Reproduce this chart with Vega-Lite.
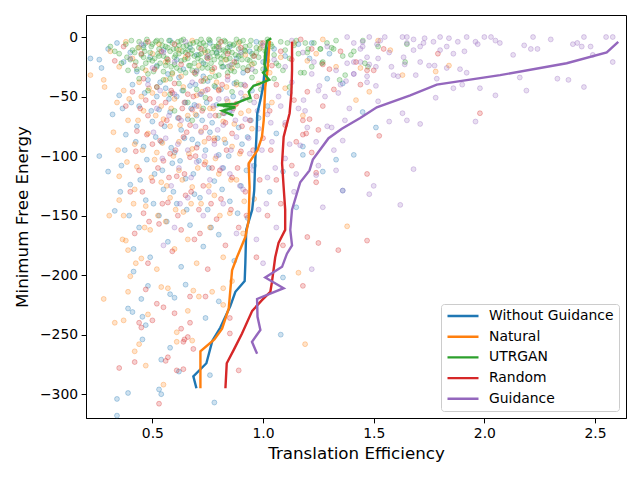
{
  "$schema": "https://vega.github.io/schema/vega-lite/v6.json",
  "width": 540,
  "height": 403,
  "autosize": {"type": "none"},
  "padding": {"left": 86, "top": 15, "right": 14, "bottom": 62},
  "background": "white",
  "config": {
    "font": "DejaVu Sans",
    "view": {"stroke": "black", "strokeWidth": 1},
    "axis": {
      "grid": false,
      "domainColor": "black",
      "tickColor": "black",
      "tickSize": 4.9,
      "labelPadding": 3.5,
      "labelFontSize": 13.9,
      "labelColor": "black",
      "titleFontSize": 16.7,
      "titleFontWeight": "normal",
      "titleColor": "black"
    }
  },
  "datasets": {
    "pts": [
      {"s":"W","x":0.22,"y":-18},{"s":"W","x":0.26,"y":-19},{"s":"W","x":0.27,"y":-26},{"s":"W","x":0.30,"y":-10},{"s":"W","x":0.34,"y":-5},{"s":"W","x":0.37,"y":-21},{"s":"W","x":0.40,"y":-13},{"s":"W","x":0.43,"y":-29},{"s":"W","x":0.46,"y":-7},{"s":"W","x":0.49,"y":-17},{"s":"W","x":0.52,"y":-24},{"s":"W","x":0.55,"y":-11},{"s":"W","x":0.58,"y":-3},{"s":"W","x":0.61,"y":-19},{"s":"W","x":0.64,"y":-27},{"s":"W","x":0.67,"y":-9},{"s":"W","x":0.70,"y":-15},{"s":"W","x":0.73,"y":-22},{"s":"W","x":0.76,"y":-5},{"s":"W","x":0.79,"y":-13},{"s":"W","x":0.82,"y":-25},{"s":"W","x":0.85,"y":-8},{"s":"W","x":0.88,"y":-18},{"s":"W","x":0.91,"y":-30},{"s":"W","x":0.94,"y":-12},{"s":"W","x":0.97,"y":-4},{"s":"W","x":1.00,"y":-21},{"s":"W","x":1.05,"y":-10},{"s":"W","x":1.10,"y":-16},{"s":"W","x":1.16,"y":-6},{"s":"W","x":1.21,"y":-18},{"s":"W","x":1.22,"y":-5},{"s":"W","x":1.30,"y":-14},
      {"s":"W","x":0.35,"y":-49},{"s":"W","x":0.32,"y":-65},{"s":"W","x":0.38,"y":-82},{"s":"W","x":0.41,"y":-40},{"s":"W","x":0.44,"y":-58},{"s":"W","x":0.46,"y":-92},{"s":"W","x":0.48,"y":-36},{"s":"W","x":0.50,"y":-71},{"s":"W","x":0.52,"y":-50},{"s":"W","x":0.54,"y":-88},{"s":"W","x":0.56,"y":-43},{"s":"W","x":0.58,"y":-63},{"s":"W","x":0.60,"y":-97},{"s":"W","x":0.62,"y":-34},{"s":"W","x":0.63,"y":-78},{"s":"W","x":0.65,"y":-55},{"s":"W","x":0.67,"y":-41},{"s":"W","x":0.68,"y":-86},{"s":"W","x":0.70,"y":-66},{"s":"W","x":0.72,"y":-48},{"s":"W","x":0.74,"y":-95},{"s":"W","x":0.75,"y":-37},{"s":"W","x":0.77,"y":-72},{"s":"W","x":0.79,"y":-57},{"s":"W","x":0.81,"y":-44},{"s":"W","x":0.83,"y":-89},{"s":"W","x":0.85,"y":-62},{"s":"W","x":0.87,"y":-39},{"s":"W","x":0.89,"y":-76},{"s":"W","x":0.91,"y":-52},{"s":"W","x":0.93,"y":-84},{"s":"W","x":0.95,"y":-45},{"s":"W","x":0.98,"y":-68},{"s":"W","x":1.02,"y":-58},{"s":"W","x":1.06,"y":-81},{"s":"W","x":1.12,"y":-47},{"s":"W","x":1.18,"y":-92},{"s":"W","x":1.29,"y":-35},{"s":"W","x":1.36,"y":-39},{"s":"W","x":0.57,"y":-31},{"s":"W","x":0.66,"y":-69},{"s":"W","x":0.73,"y":-33},{"s":"W","x":0.80,"y":-99},{"s":"W","x":0.43,"y":-75},{"s":"W","x":0.53,"y":-61},{"s":"W","x":0.61,"y":-50},{"s":"W","x":0.69,"y":-57},{"s":"W","x":0.76,"y":-80},
      {"s":"W","x":0.405,"y":-55},{"s":"W","x":0.425,"y":-88},{"s":"W","x":0.445,"y":-120},{"s":"W","x":0.465,"y":-47},{"s":"W","x":0.475,"y":-103},{"s":"W","x":0.495,"y":-62},{"s":"W","x":0.505,"y":-140},{"s":"W","x":0.515,"y":-84},{"s":"W","x":0.535,"y":-38},{"s":"W","x":0.545,"y":-112},{"s":"W","x":0.555,"y":-75},{"s":"W","x":0.565,"y":-155},{"s":"W","x":0.575,"y":-52},{"s":"W","x":0.585,"y":-93},{"s":"W","x":0.595,"y":-130},{"s":"W","x":0.615,"y":-68},{"s":"W","x":0.625,"y":-104},{"s":"W","x":0.635,"y":-45},{"s":"W","x":0.645,"y":-85},{"s":"W","x":0.655,"y":-145},{"s":"W","x":0.675,"y":-60},{"s":"W","x":0.685,"y":-115},{"s":"W","x":0.695,"y":-40},{"s":"W","x":0.705,"y":-90},{"s":"W","x":0.715,"y":-135},{"s":"W","x":0.725,"y":-70},{"s":"W","x":0.745,"y":-55},{"s":"W","x":0.755,"y":-110},{"s":"W","x":0.765,"y":-160},{"s":"W","x":0.785,"y":-42},{"s":"W","x":0.795,"y":-85},{"s":"W","x":0.815,"y":-128},{"s":"W","x":0.825,"y":-64},{"s":"W","x":0.845,"y":-100},{"s":"W","x":0.865,"y":-50},{"s":"W","x":0.885,"y":-148},{"s":"W","x":0.905,"y":-90},{"s":"W","x":0.925,"y":-112},{"s":"W","x":0.945,"y":-70},{"s":"W","x":0.395,"y":-150},{"s":"W","x":0.375,"y":-95},{"s":"W","x":0.355,"y":-130},{"s":"W","x":0.365,"y":-60},
      {"s":"W","x":0.26,"y":-100},{"s":"W","x":0.30,"y":-113},{"s":"W","x":0.36,"y":-108},{"s":"W","x":0.33,"y":-146},{"s":"W","x":0.415,"y":-178},{"s":"W","x":0.415,"y":-197},{"s":"W","x":0.40,"y":-124},{"s":"W","x":0.44,"y":-160},{"s":"W","x":0.47,"y":-137},{"s":"W","x":0.49,"y":-185},{"s":"W","x":0.51,"y":-115},{"s":"W","x":0.53,"y":-150},{"s":"W","x":0.55,"y":-128},{"s":"W","x":0.57,"y":-172},{"s":"W","x":0.59,"y":-106},{"s":"W","x":0.61,"y":-140},{"s":"W","x":0.63,"y":-193},{"s":"W","x":0.65,"y":-119},{"s":"W","x":0.67,"y":-158},{"s":"W","x":0.69,"y":-132},{"s":"W","x":0.71,"y":-104},{"s":"W","x":0.73,"y":-176},{"s":"W","x":0.75,"y":-145},{"s":"W","x":0.78,"y":-121},{"s":"W","x":0.80,"y":-166},{"s":"W","x":0.82,"y":-110},{"s":"W","x":0.85,"y":-138},{"s":"W","x":0.87,"y":-188},{"s":"W","x":0.90,"y":-125},{"s":"W","x":0.93,"y":-152},{"s":"W","x":0.96,"y":-108},{"s":"W","x":1.03,"y":-130},{"s":"W","x":1.09,"y":-113},{"s":"W","x":1.15,"y":-143},{"s":"W","x":1.18,"y":-99},{"s":"W","x":1.09,"y":-202},{"s":"W","x":1.27,"y":-113},{"s":"W","x":1.33,"y":-103},{"s":"W","x":1.36,"y":-129},{"s":"W","x":1.41,"y":-99},{"s":"W","x":1.45,"y":-63},{"s":"W","x":1.51,"y":-76},{"s":"W","x":0.48,"y":-209},{"s":"W","x":0.65,"y":-208},
      {"s":"W","x":0.58,"y":-216},{"s":"W","x":0.60,"y":-219},{"s":"W","x":0.45,"y":-220},{"s":"W","x":0.80,"y":-222},{"s":"W","x":0.39,"y":-228},{"s":"W","x":0.41,"y":-231},{"s":"W","x":0.455,"y":-235},{"s":"W","x":0.74,"y":-236},{"s":"W","x":0.47,"y":-242},{"s":"W","x":0.455,"y":-254},{"s":"W","x":0.58,"y":-261},{"s":"W","x":0.54,"y":-271},{"s":"W","x":0.62,"y":-281},{"s":"W","x":0.76,"y":-284},{"s":"W","x":0.39,"y":-299},{"s":"W","x":0.53,"y":-296},{"s":"W","x":0.54,"y":-300},{"s":"W","x":0.34,"y":-304},{"s":"W","x":0.78,"y":-307},{"s":"W","x":0.34,"y":-318},{"s":"W","x":1.08,"y":-250},

      {"s":"N","x":0.22,"y":-32},{"s":"N","x":0.28,"y":-36},{"s":"N","x":0.284,"y":-42},{"s":"N","x":0.31,"y":-12},{"s":"N","x":0.35,"y":-25},{"s":"N","x":0.38,"y":-4},{"s":"N","x":0.41,"y":-18},{"s":"N","x":0.44,"y":-9},{"s":"N","x":0.47,"y":-28},{"s":"N","x":0.50,"y":-14},{"s":"N","x":0.53,"y":-6},{"s":"N","x":0.56,"y":-21},{"s":"N","x":0.59,"y":-31},{"s":"N","x":0.62,"y":-11},{"s":"N","x":0.65,"y":-17},{"s":"N","x":0.68,"y":-3},{"s":"N","x":0.71,"y":-24},{"s":"N","x":0.74,"y":-13},{"s":"N","x":0.77,"y":-29},{"s":"N","x":0.80,"y":-8},{"s":"N","x":0.83,"y":-19},{"s":"N","x":0.86,"y":-26},{"s":"N","x":0.89,"y":-5},{"s":"N","x":0.92,"y":-15},{"s":"N","x":0.95,"y":-23},{"s":"N","x":0.99,"y":-9},{"s":"N","x":1.03,"y":-30},{"s":"N","x":1.08,"y":-17},{"s":"N","x":1.14,"y":-5},{"s":"N","x":1.20,"y":-20},{"s":"N","x":1.27,"y":-2},{"s":"N","x":1.24,"y":-14},{"s":"N","x":1.33,"y":-25},{"s":"N","x":1.44,"y":-26},{"s":"N","x":1.52,"y":-3},{"s":"N","x":1.575,"y":-11},{"s":"N","x":1.63,"y":-32},{"s":"N","x":1.78,"y":-29},{"s":"N","x":1.84,"y":-24},
      {"s":"N","x":0.324,"y":-80},{"s":"N","x":0.34,"y":-55},{"s":"N","x":0.37,"y":-45},{"s":"N","x":0.39,"y":-70},{"s":"N","x":0.42,"y":-90},{"s":"N","x":0.44,"y":-38},{"s":"N","x":0.46,"y":-62},{"s":"N","x":0.48,"y":-81},{"s":"N","x":0.50,"y":-47},{"s":"N","x":0.52,"y":-97},{"s":"N","x":0.54,"y":-58},{"s":"N","x":0.56,"y":-36},{"s":"N","x":0.58,"y":-75},{"s":"N","x":0.60,"y":-52},{"s":"N","x":0.62,"y":-88},{"s":"N","x":0.64,"y":-42},{"s":"N","x":0.66,"y":-66},{"s":"N","x":0.68,"y":-94},{"s":"N","x":0.70,"y":-49},{"s":"N","x":0.72,"y":-79},{"s":"N","x":0.74,"y":-35},{"s":"N","x":0.76,"y":-60},{"s":"N","x":0.78,"y":-85},{"s":"N","x":0.80,"y":-44},{"s":"N","x":0.82,"y":-71},{"s":"N","x":0.84,"y":-54},{"s":"N","x":0.86,"y":-92},{"s":"N","x":0.88,"y":-40},{"s":"N","x":0.90,"y":-64},{"s":"N","x":0.92,"y":-50},{"s":"N","x":0.95,"y":-77},{"s":"N","x":0.98,"y":-39},{"s":"N","x":1.04,"y":-55},{"s":"N","x":1.10,"y":-43},{"s":"N","x":1.18,"y":-66},{"s":"N","x":1.42,"y":-53},{"s":"N","x":1.48,"y":-46},{"s":"N","x":0.45,"y":-50},{"s":"N","x":0.55,"y":-69},{"s":"N","x":0.63,"y":-33},{"s":"N","x":0.71,"y":-58},{"s":"N","x":0.79,"y":-38},{"s":"N","x":0.87,"y":-73},
      {"s":"N","x":0.385,"y":-105},{"s":"N","x":0.395,"y":-52},{"s":"N","x":0.415,"y":-140},{"s":"N","x":0.435,"y":-70},{"s":"N","x":0.455,"y":-95},{"s":"N","x":0.465,"y":-160},{"s":"N","x":0.485,"y":-43},{"s":"N","x":0.495,"y":-118},{"s":"N","x":0.515,"y":-66},{"s":"N","x":0.525,"y":-150},{"s":"N","x":0.545,"y":-89},{"s":"N","x":0.555,"y":-48},{"s":"N","x":0.565,"y":-125},{"s":"N","x":0.585,"y":-60},{"s":"N","x":0.595,"y":-100},{"s":"N","x":0.605,"y":-145},{"s":"N","x":0.625,"y":-74},{"s":"N","x":0.635,"y":-120},{"s":"N","x":0.645,"y":-55},{"s":"N","x":0.665,"y":-98},{"s":"N","x":0.675,"y":-140},{"s":"N","x":0.695,"y":-65},{"s":"N","x":0.705,"y":-110},{"s":"N","x":0.725,"y":-46},{"s":"N","x":0.735,"y":-88},{"s":"N","x":0.755,"y":-125},{"s":"N","x":0.775,"y":-60},{"s":"N","x":0.785,"y":-102},{"s":"N","x":0.805,"y":-150},{"s":"N","x":0.825,"y":-86},{"s":"N","x":0.835,"y":-42},{"s":"N","x":0.855,"y":-120},{"s":"N","x":0.875,"y":-57},{"s":"N","x":0.895,"y":-98},{"s":"N","x":0.915,"y":-138},{"s":"N","x":0.935,"y":-62},{"s":"N","x":0.345,"y":-95},{"s":"N","x":0.365,"y":-170},{"s":"N","x":0.425,"y":-190},{"s":"N","x":0.305,"y":-150},
      {"s":"N","x":0.35,"y":-117},{"s":"N","x":0.35,"y":-137},{"s":"N","x":0.38,"y":-171},{"s":"N","x":0.39,"y":-179},{"s":"N","x":0.40,"y":-201},{"s":"N","x":0.37,"y":-150},{"s":"N","x":0.42,"y":-128},{"s":"N","x":0.43,"y":-109},{"s":"N","x":0.45,"y":-186},{"s":"N","x":0.47,"y":-142},{"s":"N","x":0.49,"y":-162},{"s":"N","x":0.51,"y":-103},{"s":"N","x":0.52,"y":-195},{"s":"N","x":0.54,"y":-122},{"s":"N","x":0.56,"y":-155},{"s":"N","x":0.58,"y":-135},{"s":"N","x":0.60,"y":-178},{"s":"N","x":0.62,"y":-112},{"s":"N","x":0.64,"y":-147},{"s":"N","x":0.66,"y":-170},{"s":"N","x":0.68,"y":-126},{"s":"N","x":0.70,"y":-190},{"s":"N","x":0.72,"y":-140},{"s":"N","x":0.74,"y":-105},{"s":"N","x":0.76,"y":-160},{"s":"N","x":0.78,"y":-133},{"s":"N","x":0.80,"y":-115},{"s":"N","x":0.82,"y":-185},{"s":"N","x":0.85,"y":-148},{"s":"N","x":0.88,"y":-120},{"s":"N","x":0.91,"y":-165},{"s":"N","x":0.96,"y":-136},{"s":"N","x":1.16,"y":-198},{"s":"N","x":1.19,"y":-258},{"s":"N","x":1.38,"y":-159},
      {"s":"N","x":0.28,"y":-220},{"s":"N","x":0.39,"y":-214},{"s":"N","x":0.37,"y":-238},{"s":"N","x":0.48,"y":-233},{"s":"N","x":0.44,"y":-258},{"s":"N","x":0.42,"y":-264},{"s":"N","x":0.47,"y":-276},{"s":"N","x":0.55,"y":-292},{"s":"N","x":0.66,"y":-230},{"s":"N","x":0.61,"y":-248},{"s":"N","x":0.61,"y":-256},{"s":"N","x":0.68,"y":-255},{"s":"N","x":0.54,"y":-210},{"s":"N","x":0.57,"y":-211},{"s":"N","x":0.685,"y":-213},{"s":"N","x":0.71,"y":-218},{"s":"N","x":0.77,"y":-214},{"s":"N","x":0.82,"y":-211},{"s":"N","x":0.82,"y":-225},{"s":"N","x":0.33,"y":-240},{"s":"N","x":0.86,"y":-205},

      {"s":"U","x":0.31,"y":-8},{"s":"U","x":0.35,"y":-14},{"s":"U","x":0.38,"y":-6},{"s":"U","x":0.40,"y":-19},{"s":"U","x":0.41,"y":-11},{"s":"U","x":0.43,"y":-27},{"s":"U","x":0.44,"y":-4},{"s":"U","x":0.45,"y":-15},{"s":"U","x":0.46,"y":-9},{"s":"U","x":0.47,"y":-22},{"s":"U","x":0.48,"y":-31},{"s":"U","x":0.49,"y":-13},{"s":"U","x":0.50,"y":-6},{"s":"U","x":0.51,"y":-18},{"s":"U","x":0.52,"y":-25},{"s":"U","x":0.53,"y":-10},{"s":"U","x":0.54,"y":-3},{"s":"U","x":0.55,"y":-16},{"s":"U","x":0.55,"y":-29},{"s":"U","x":0.56,"y":-8},{"s":"U","x":0.57,"y":-21},{"s":"U","x":0.58,"y":-12},{"s":"U","x":0.58,"y":-35},{"s":"U","x":0.59,"y":-5},{"s":"U","x":0.60,"y":-17},{"s":"U","x":0.61,"y":-26},{"s":"U","x":0.61,"y":-10},{"s":"U","x":0.62,"y":-14},{"s":"U","x":0.63,"y":-3},{"s":"U","x":0.63,"y":-20},{"s":"U","x":0.64,"y":-8},{"s":"U","x":0.65,"y":-30},{"s":"U","x":0.65,"y":-13},{"s":"U","x":0.66,"y":-18},{"s":"U","x":0.67,"y":-6},{"s":"U","x":0.67,"y":-24},{"s":"U","x":0.68,"y":-11},{"s":"U","x":0.69,"y":-16},{"s":"U","x":0.70,"y":-4},{"s":"U","x":0.70,"y":-28},{"s":"U","x":0.71,"y":-9},{"s":"U","x":0.72,"y":-20},{"s":"U","x":0.72,"y":-14},{"s":"U","x":0.73,"y":-37},{"s":"U","x":0.74,"y":-7},{"s":"U","x":0.74,"y":-23},{"s":"U","x":0.75,"y":-12},{"s":"U","x":0.76,"y":-17},{"s":"U","x":0.76,"y":-3},{"s":"U","x":0.77,"y":-27},{"s":"U","x":0.78,"y":-10},{"s":"U","x":0.78,"y":-19},{"s":"U","x":0.79,"y":-14},{"s":"U","x":0.80,"y":-6},{"s":"U","x":0.80,"y":-32},{"s":"U","x":0.81,"y":-22},{"s":"U","x":0.82,"y":-11},{"s":"U","x":0.82,"y":-16},{"s":"U","x":0.83,"y":-4},{"s":"U","x":0.84,"y":-25},{"s":"U","x":0.84,"y":-9},{"s":"U","x":0.85,"y":-18},{"s":"U","x":0.86,"y":-13},{"s":"U","x":0.87,"y":-29},{"s":"U","x":0.87,"y":-6},{"s":"U","x":0.88,"y":-21},{"s":"U","x":0.89,"y":-10},{"s":"U","x":0.90,"y":-15},{"s":"U","x":0.91,"y":-3},{"s":"U","x":0.91,"y":-26},{"s":"U","x":0.92,"y":-12},{"s":"U","x":0.93,"y":-19},{"s":"U","x":0.94,"y":-7},{"s":"U","x":0.95,"y":-34},{"s":"U","x":0.95,"y":-14},{"s":"U","x":0.96,"y":-22},{"s":"U","x":0.97,"y":-9},{"s":"U","x":0.98,"y":-17},{"s":"U","x":0.99,"y":-5},{"s":"U","x":1.00,"y":-27},{"s":"U","x":1.01,"y":-12},{"s":"U","x":1.02,"y":-20},{"s":"U","x":1.04,"y":-8},{"s":"U","x":1.05,"y":-15},{"s":"U","x":1.07,"y":-24},{"s":"U","x":1.08,"y":-4},{"s":"U","x":1.10,"y":-11},{"s":"U","x":1.12,"y":-18},{"s":"U","x":1.14,"y":-7},{"s":"U","x":1.17,"y":-30},{"s":"U","x":1.20,"y":-13},{"s":"U","x":1.23,"y":-5},{"s":"U","x":1.27,"y":-21},{"s":"U","x":1.31,"y":-9},{"s":"U","x":1.36,"y":-16},
      {"s":"U","x":0.385,"y":-17},{"s":"U","x":0.405,"y":-3},{"s":"U","x":0.425,"y":-21},{"s":"U","x":0.435,"y":-9},{"s":"U","x":0.455,"y":-26},{"s":"U","x":0.465,"y":-12},{"s":"U","x":0.475,"y":-2},{"s":"U","x":0.485,"y":-19},{"s":"U","x":0.495,"y":-8},{"s":"U","x":0.505,"y":-29},{"s":"U","x":0.515,"y":-4},{"s":"U","x":0.525,"y":-14},{"s":"U","x":0.535,"y":-22},{"s":"U","x":0.545,"y":-7},{"s":"U","x":0.565,"y":-18},{"s":"U","x":0.575,"y":-3},{"s":"U","x":0.585,"y":-25},{"s":"U","x":0.595,"y":-10},{"s":"U","x":0.605,"y":-15},{"s":"U","x":0.615,"y":-4},{"s":"U","x":0.625,"y":-28},{"s":"U","x":0.635,"y":-12},{"s":"U","x":0.645,"y":-19},{"s":"U","x":0.655,"y":-7},{"s":"U","x":0.665,"y":-24},{"s":"U","x":0.675,"y":-14},{"s":"U","x":0.685,"y":-5},{"s":"U","x":0.695,"y":-31},{"s":"U","x":0.705,"y":-18},{"s":"U","x":0.715,"y":-6},{"s":"U","x":0.725,"y":-26},{"s":"U","x":0.735,"y":-11},{"s":"U","x":0.745,"y":-17},{"s":"U","x":0.755,"y":-2},{"s":"U","x":0.765,"y":-22},{"s":"U","x":0.775,"y":-8},{"s":"U","x":0.785,"y":-33},{"s":"U","x":0.795,"y":-16},{"s":"U","x":0.805,"y":-11},{"s":"U","x":0.815,"y":-25},{"s":"U","x":0.825,"y":-3},{"s":"U","x":0.835,"y":-19},{"s":"U","x":0.845,"y":-12},{"s":"U","x":0.855,"y":-28},{"s":"U","x":0.865,"y":-7},{"s":"U","x":0.875,"y":-15},{"s":"U","x":0.885,"y":-24},{"s":"U","x":0.895,"y":-4},{"s":"U","x":0.905,"y":-19},{"s":"U","x":0.915,"y":-11},{"s":"U","x":0.935,"y":-25},{"s":"U","x":0.945,"y":-3},{"s":"U","x":0.955,"y":-16},{"s":"U","x":0.965,"y":-29},{"s":"U","x":0.985,"y":-10},{"s":"U","x":1.015,"y":-16},{"s":"U","x":1.035,"y":-6},{"s":"U","x":1.06,"y":-22},{"s":"U","x":1.11,"y":-5},{"s":"U","x":1.16,"y":-14},
      {"s":"U","x":0.52,"y":-42},{"s":"U","x":0.58,"y":-48},{"s":"U","x":0.62,"y":-39},{"s":"U","x":0.66,"y":-55},{"s":"U","x":0.70,"y":-44},{"s":"U","x":0.74,"y":-51},{"s":"U","x":0.78,"y":-41},{"s":"U","x":0.83,"y":-58},{"s":"U","x":0.86,"y":-46},{"s":"U","x":0.90,"y":-40},{"s":"U","x":0.94,"y":-53},{"s":"U","x":0.60,"y":-62},{"s":"U","x":0.68,"y":-70},{"s":"U","x":0.80,"y":-66},{"s":"U","x":0.48,"y":-45},{"s":"U","x":0.55,"y":-36},{"s":"U","x":0.64,"y":-45},{"s":"U","x":0.73,"y":-60},{"s":"U","x":0.88,"y":-38},{"s":"U","x":0.99,"y":-44},{"s":"U","x":1.05,"y":-35},{"s":"U","x":1.12,"y":-42},
      {"s":"U","x":0.42,"y":-13},{"s":"U","x":0.47,"y":-5},{"s":"U","x":0.50,"y":-20},{"s":"U","x":0.53,"y":-16},{"s":"U","x":0.57,"y":-9},{"s":"U","x":0.60,"y":-23},{"s":"U","x":0.62,"y":-7},{"s":"U","x":0.66,"y":-11},{"s":"U","x":0.69,"y":-22},{"s":"U","x":0.71,"y":-15},{"s":"U","x":0.73,"y":-5},{"s":"U","x":0.75,"y":-26},{"s":"U","x":0.77,"y":-13},{"s":"U","x":0.79,"y":-8},{"s":"U","x":0.81,"y":-18},{"s":"U","x":0.83,"y":-12},{"s":"U","x":0.85,"y":-6},{"s":"U","x":0.86,"y":-23},{"s":"U","x":0.89,"y":-16},{"s":"U","x":0.92,"y":-8},{"s":"U","x":0.94,"y":-20},{"s":"U","x":0.97,"y":-13},{"s":"U","x":0.36,"y":-22},{"s":"U","x":0.33,"y":-12},{"s":"U","x":0.39,"y":-28},{"s":"U","x":0.44,"y":-35},{"s":"U","x":0.46,"y":-17},{"s":"U","x":0.52,"y":-3},{"s":"U","x":0.56,"y":-24},{"s":"U","x":0.59,"y":-30},{"s":"U","x":0.64,"y":-2},{"s":"U","x":0.68,"y":-28},{"s":"U","x":0.72,"y":-2},{"s":"U","x":0.76,"y":-34},{"s":"U","x":0.80,"y":-2},{"s":"U","x":0.84,"y":-30},{"s":"U","x":0.88,"y":-2},{"s":"U","x":0.93,"y":-28},{"s":"U","x":1.02,"y":-2},{"s":"U","x":1.09,"y":-28},{"s":"U","x":1.15,"y":-3},{"s":"U","x":1.22,"y":-25},{"s":"U","x":1.26,"y":-10},{"s":"U","x":1.33,"y":-3},{"s":"U","x":1.41,"y":-12},{"s":"U","x":1.46,"y":-22},{"s":"U","x":1.52,"y":-8},
      {"s":"U","x":1.65,"y":-6},{"s":"U","x":1.642,"y":-21},{"s":"U","x":1.451,"y":-3},{"s":"U","x":1.397,"y":-15},{"s":"U","x":1.371,"y":-32},{"s":"U","x":1.346,"y":-36},{"s":"U","x":1.474,"y":-25},{"s":"U","x":1.319,"y":-10},{"s":"U","x":1.289,"y":-5},{"s":"U","x":1.258,"y":-10},{"s":"U","x":1.204,"y":-10},{"s":"U","x":1.191,"y":-5},{"s":"U","x":1.266,"y":-22},{"s":"U","x":1.186,"y":-30},

      {"s":"R","x":0.33,"y":-20},{"s":"R","x":0.37,"y":-8},{"s":"R","x":0.42,"y":-24},{"s":"R","x":0.45,"y":-14},{"s":"R","x":0.48,"y":-4},{"s":"R","x":0.51,"y":-27},{"s":"R","x":0.54,"y":-12},{"s":"R","x":0.57,"y":-19},{"s":"R","x":0.60,"y":-6},{"s":"R","x":0.63,"y":-23},{"s":"R","x":0.66,"y":-15},{"s":"R","x":0.69,"y":-30},{"s":"R","x":0.72,"y":-10},{"s":"R","x":0.75,"y":-18},{"s":"R","x":0.78,"y":-26},{"s":"R","x":0.81,"y":-4},{"s":"R","x":0.84,"y":-14},{"s":"R","x":0.87,"y":-21},{"s":"R","x":0.90,"y":-9},{"s":"R","x":0.93,"y":-28},{"s":"R","x":0.96,"y":-16},{"s":"R","x":1.00,"y":-5},{"s":"R","x":1.04,"y":-24},{"s":"R","x":1.08,"y":-12},{"s":"R","x":1.13,"y":-19},{"s":"R","x":1.17,"y":-2},{"s":"R","x":1.22,"y":-10},{"s":"R","x":1.27,"y":-23},{"s":"R","x":1.30,"y":-27},{"s":"R","x":1.35,"y":-12},{"s":"R","x":1.42,"y":-21},{"s":"R","x":1.47,"y":-28},{"s":"R","x":1.50,"y":-28},{"s":"R","x":1.545,"y":-10},{"s":"R","x":1.79,"y":-14},
      {"s":"R","x":0.38,"y":-58},{"s":"R","x":0.41,"y":-46},{"s":"R","x":0.43,"y":-79},{"s":"R","x":0.46,"y":-35},{"s":"R","x":0.48,"y":-66},{"s":"R","x":0.50,"y":-90},{"s":"R","x":0.52,"y":-42},{"s":"R","x":0.54,"y":-73},{"s":"R","x":0.56,"y":-55},{"s":"R","x":0.58,"y":-98},{"s":"R","x":0.60,"y":-39},{"s":"R","x":0.62,"y":-68},{"s":"R","x":0.64,"y":-84},{"s":"R","x":0.66,"y":-48},{"s":"R","x":0.68,"y":-61},{"s":"R","x":0.70,"y":-93},{"s":"R","x":0.72,"y":-37},{"s":"R","x":0.74,"y":-76},{"s":"R","x":0.76,"y":-52},{"s":"R","x":0.78,"y":-87},{"s":"R","x":0.80,"y":-45},{"s":"R","x":0.82,"y":-64},{"s":"R","x":0.84,"y":-33},{"s":"R","x":0.86,"y":-81},{"s":"R","x":0.88,"y":-56},{"s":"R","x":0.90,"y":-96},{"s":"R","x":0.92,"y":-41},{"s":"R","x":0.94,"y":-70},{"s":"R","x":0.97,"y":-50},{"s":"R","x":1.00,"y":-85},{"s":"R","x":1.03,"y":-62},{"s":"R","x":1.06,"y":-40},{"s":"R","x":1.10,"y":-74},{"s":"R","x":1.14,"y":-53},{"s":"R","x":1.18,"y":-70},{"s":"R","x":1.18,"y":-82},{"s":"R","x":1.195,"y":-81},{"s":"R","x":1.20,"y":-46},{"s":"R","x":1.21,"y":-69},{"s":"R","x":1.25,"y":-78},{"s":"R","x":1.27,"y":-58},{"s":"R","x":1.32,"y":-44},{"s":"R","x":1.44,"y":-40},{"s":"R","x":1.525,"y":-83},{"s":"R","x":1.98,"y":-64},{"s":"R","x":0.59,"y":-47},{"s":"R","x":0.67,"y":-74},{"s":"R","x":0.75,"y":-44},{"s":"R","x":0.83,"y":-72},{"s":"R","x":0.47,"y":-53},
      {"s":"R","x":0.425,"y":-96},{"s":"R","x":0.445,"y":-60},{"s":"R","x":0.455,"y":-130},{"s":"R","x":0.475,"y":-82},{"s":"R","x":0.485,"y":-155},{"s":"R","x":0.505,"y":-55},{"s":"R","x":0.525,"y":-110},{"s":"R","x":0.535,"y":-87},{"s":"R","x":0.545,"y":-140},{"s":"R","x":0.565,"y":-70},{"s":"R","x":0.575,"y":-118},{"s":"R","x":0.585,"y":-45},{"s":"R","x":0.605,"y":-95},{"s":"R","x":0.615,"y":-150},{"s":"R","x":0.635,"y":-60},{"s":"R","x":0.645,"y":-115},{"s":"R","x":0.655,"y":-80},{"s":"R","x":0.675,"y":-130},{"s":"R","x":0.685,"y":-50},{"s":"R","x":0.695,"y":-100},{"s":"R","x":0.715,"y":-165},{"s":"R","x":0.725,"y":-62},{"s":"R","x":0.735,"y":-107},{"s":"R","x":0.755,"y":-85},{"s":"R","x":0.765,"y":-140},{"s":"R","x":0.785,"y":-66},{"s":"R","x":0.805,"y":-112},{"s":"R","x":0.815,"y":-40},{"s":"R","x":0.835,"y":-95},{"s":"R","x":0.855,"y":-145},{"s":"R","x":0.865,"y":-60},{"s":"R","x":0.885,"y":-110},{"s":"R","x":0.905,"y":-75},{"s":"R","x":0.925,"y":-150},{"s":"R","x":0.955,"y":-95},{"s":"R","x":0.985,"y":-120},{"s":"R","x":1.035,"y":-95},{"s":"R","x":1.08,"y":-140},{"s":"R","x":1.15,"y":-88},{"s":"R","x":1.22,"y":-97},
      {"s":"R","x":0.40,"y":-130},{"s":"R","x":0.42,"y":-165},{"s":"R","x":0.44,"y":-112},{"s":"R","x":0.46,"y":-148},{"s":"R","x":0.48,"y":-190},{"s":"R","x":0.50,"y":-121},{"s":"R","x":0.53,"y":-157},{"s":"R","x":0.55,"y":-104},{"s":"R","x":0.57,"y":-139},{"s":"R","x":0.59,"y":-180},{"s":"R","x":0.61,"y":-117},{"s":"R","x":0.63,"y":-162},{"s":"R","x":0.65,"y":-133},{"s":"R","x":0.67,"y":-101},{"s":"R","x":0.69,"y":-170},{"s":"R","x":0.71,"y":-145},{"s":"R","x":0.73,"y":-125},{"s":"R","x":0.75,"y":-195},{"s":"R","x":0.77,"y":-110},{"s":"R","x":0.79,"y":-153},{"s":"R","x":0.81,"y":-136},{"s":"R","x":0.83,"y":-175},{"s":"R","x":0.86,"y":-118},{"s":"R","x":0.89,"y":-160},{"s":"R","x":0.92,"y":-130},{"s":"R","x":0.97,"y":-185},{"s":"R","x":1.02,"y":-150},{"s":"R","x":1.06,"y":-120},{"s":"R","x":1.09,"y":-175},{"s":"R","x":1.13,"y":-108},{"s":"R","x":1.20,"y":-168},{"s":"R","x":1.24,"y":-122},{"s":"R","x":1.24,"y":-114},{"s":"R","x":1.25,"y":-173},{"s":"R","x":1.34,"y":-179},{"s":"R","x":1.47,"y":-115},{"s":"R","x":1.47,"y":-171},{"s":"R","x":1.18,"y":-209},
      {"s":"R","x":0.35,"y":-278},{"s":"R","x":0.42,"y":-273},{"s":"R","x":0.44,"y":-240},{"s":"R","x":0.45,"y":-244},{"s":"R","x":0.50,"y":-238},{"s":"R","x":0.52,"y":-224},{"s":"R","x":0.55,"y":-227},{"s":"R","x":0.57,"y":-269},{"s":"R","x":0.56,"y":-272},{"s":"R","x":0.53,"y":-308},{"s":"R","x":0.61,"y":-280},{"s":"R","x":0.64,"y":-279},{"s":"R","x":0.63,"y":-245},{"s":"R","x":0.645,"y":-254},{"s":"R","x":0.64,"y":-256},{"s":"R","x":0.66,"y":-252},{"s":"R","x":0.685,"y":-262},{"s":"R","x":0.67,"y":-240},{"s":"R","x":0.67,"y":-218},{"s":"R","x":0.74,"y":-218},{"s":"R","x":0.85,"y":-236},{"s":"R","x":0.85,"y":-249},{"s":"R","x":0.89,"y":-280},{"s":"R","x":0.47,"y":-212},{"s":"R","x":0.60,"y":-232},

      {"s":"G","x":0.40,"y":-18},{"s":"G","x":0.45,"y":-6},{"s":"G","x":0.50,"y":-26},{"s":"G","x":0.55,"y":-13},{"s":"G","x":0.60,"y":-21},{"s":"G","x":0.65,"y":-4},{"s":"G","x":0.70,"y":-29},{"s":"G","x":0.75,"y":-16},{"s":"G","x":0.80,"y":-9},{"s":"G","x":0.85,"y":-24},{"s":"G","x":0.90,"y":-13},{"s":"G","x":0.95,"y":-27},{"s":"G","x":1.00,"y":-7},{"s":"G","x":1.05,"y":-19},{"s":"G","x":1.10,"y":-25},{"s":"G","x":1.13,"y":-3},{"s":"G","x":1.18,"y":-13},{"s":"G","x":1.23,"y":-21},{"s":"G","x":1.29,"y":-8},{"s":"G","x":1.33,"y":-28},
      {"s":"G","x":0.48,"y":-40},{"s":"G","x":0.52,"y":-60},{"s":"G","x":0.56,"y":-85},{"s":"G","x":0.60,"y":-48},{"s":"G","x":0.63,"y":-70},{"s":"G","x":0.66,"y":-95},{"s":"G","x":0.68,"y":-38},{"s":"G","x":0.70,"y":-58},{"s":"G","x":0.72,"y":-80},{"s":"G","x":0.74,"y":-45},{"s":"G","x":0.76,"y":-66},{"s":"G","x":0.78,"y":-90},{"s":"G","x":0.80,"y":-52},{"s":"G","x":0.82,"y":-74},{"s":"G","x":0.84,"y":-36},{"s":"G","x":0.86,"y":-62},{"s":"G","x":0.88,"y":-84},{"s":"G","x":0.90,"y":-47},{"s":"G","x":0.92,"y":-69},{"s":"G","x":0.94,"y":-98},{"s":"G","x":0.96,"y":-55},{"s":"G","x":0.98,"y":-77},{"s":"G","x":1.00,"y":-42},{"s":"G","x":1.02,"y":-65},{"s":"G","x":1.04,"y":-88},{"s":"G","x":1.07,"y":-50},{"s":"G","x":1.10,"y":-72},{"s":"G","x":1.13,"y":-38},{"s":"G","x":1.16,"y":-60},{"s":"G","x":1.183,"y":-53},{"s":"G","x":1.20,"y":-76},{"s":"G","x":1.168,"y":-91},{"s":"G","x":1.22,"y":-31},{"s":"G","x":1.25,"y":-45},{"s":"G","x":1.255,"y":-41},{"s":"G","x":1.28,"y":-50},{"s":"G","x":1.29,"y":-75},{"s":"G","x":1.31,"y":-76},{"s":"G","x":1.34,"y":-47},{"s":"G","x":1.35,"y":-40},{"s":"G","x":1.375,"y":-37},{"s":"G","x":1.36,"y":-87},{"s":"G","x":1.37,"y":-70},{"s":"G","x":1.39,"y":-60},{"s":"G","x":1.41,"y":-31},{"s":"G","x":1.47,"y":-33},{"s":"G","x":1.47,"y":-38},{"s":"G","x":1.51,"y":-41},{"s":"G","x":1.52,"y":-54},{"s":"G","x":1.57,"y":-71},{"s":"G","x":1.63,"y":-64},{"s":"G","x":1.65,"y":-70},{"s":"G","x":1.71,"y":-73},{"s":"G","x":1.69,"y":-32},{"s":"G","x":1.78,"y":-51},{"s":"G","x":1.96,"y":-71},{"s":"G","x":1.98,"y":-43},{"s":"G","x":2.05,"y":-49},{"s":"G","x":2.19,"y":-45},{"s":"G","x":2.16,"y":-34},{"s":"G","x":2.33,"y":-35},{"s":"G","x":2.38,"y":-36},{"s":"G","x":2.45,"y":-42},
      {"s":"G","x":0.505,"y":-80},{"s":"G","x":0.535,"y":-45},{"s":"G","x":0.575,"y":-66},{"s":"G","x":0.615,"y":-90},{"s":"G","x":0.645,"y":-55},{"s":"G","x":0.675,"y":-118},{"s":"G","x":0.695,"y":-75},{"s":"G","x":0.715,"y":-48},{"s":"G","x":0.735,"y":-100},{"s":"G","x":0.755,"y":-130},{"s":"G","x":0.775,"y":-58},{"s":"G","x":0.795,"y":-78},{"s":"G","x":0.815,"y":-110},{"s":"G","x":0.835,"y":-52},{"s":"G","x":0.855,"y":-95},{"s":"G","x":0.875,"y":-70},{"s":"G","x":0.895,"y":-125},{"s":"G","x":0.915,"y":-40},{"s":"G","x":0.935,"y":-85},{"s":"G","x":0.955,"y":-112},{"s":"G","x":0.975,"y":-62},{"s":"G","x":0.995,"y":-95},{"s":"G","x":1.015,"y":-140},{"s":"G","x":1.035,"y":-72},{"s":"G","x":1.055,"y":-110},{"s":"G","x":1.08,"y":-58},{"s":"G","x":1.12,"y":-90},{"s":"G","x":1.15,"y":-115},{"s":"G","x":1.19,"y":-62},{"s":"G","x":1.24,"y":-88},{"s":"G","x":0.625,"y":-140},{"s":"G","x":0.585,"y":-125},{"s":"G","x":0.545,"y":-102},
      {"s":"G","x":0.62,"y":-110},{"s":"G","x":0.66,"y":-135},{"s":"G","x":0.70,"y":-105},{"s":"G","x":0.73,"y":-150},{"s":"G","x":0.76,"y":-120},{"s":"G","x":0.79,"y":-100},{"s":"G","x":0.82,"y":-140},{"s":"G","x":0.85,"y":-115},{"s":"G","x":0.88,"y":-165},{"s":"G","x":0.91,"y":-128},{"s":"G","x":0.94,"y":-108},{"s":"G","x":0.98,"y":-145},{"s":"G","x":1.02,"y":-118},{"s":"G","x":1.06,"y":-160},{"s":"G","x":1.10,"y":-102},{"s":"G","x":1.14,"y":-130},{"s":"G","x":1.22,"y":-195},{"s":"G","x":1.25,"y":-108},{"s":"G","x":1.24,"y":-116},{"s":"G","x":1.27,"y":-143},{"s":"G","x":1.32,"y":-95},{"s":"G","x":1.33,"y":-112},{"s":"G","x":1.36,"y":-129},{"s":"G","x":1.48,"y":-132},{"s":"G","x":1.50,"y":-125},{"s":"G","x":1.62,"y":-141},{"s":"G","x":1.68,"y":-111},{"s":"G","x":0.55,"y":-175},{"s":"G","x":0.60,"y":-160},{"s":"G","x":1.00,"y":-190},{"s":"G","x":0.97,"y":-170},
      {"s":"G","x":1.38,"y":0},{"s":"G","x":1.48,"y":0},{"s":"G","x":1.55,"y":0},{"s":"G","x":1.63,"y":0},{"s":"G","x":1.65,"y":0},{"s":"G","x":1.68,"y":-2},{"s":"G","x":1.73,"y":-1},{"s":"G","x":1.80,"y":0},{"s":"G","x":1.84,"y":-1},{"s":"G","x":1.92,"y":0},{"s":"G","x":2.00,"y":0},{"s":"G","x":2.03,"y":0},{"s":"G","x":2.05,"y":-3},{"s":"G","x":2.07,"y":-5},{"s":"G","x":2.22,"y":0},{"s":"G","x":2.30,"y":-2},{"s":"G","x":2.55,"y":0},{"s":"G","x":2.58,"y":0},{"s":"G","x":2.45,"y":0},{"s":"G","x":2.42,"y":-5},{"s":"G","x":2.40,"y":-6},{"s":"G","x":2.48,"y":-8},{"s":"G","x":2.44,"y":-8},{"s":"G","x":2.58,"y":-21},{"s":"G","x":2.49,"y":-15},{"s":"G","x":2.24,"y":-10},{"s":"G","x":2.21,"y":-10},{"s":"G","x":2.18,"y":-7},{"s":"G","x":2.13,"y":-15},{"s":"G","x":1.92,"y":-30},{"s":"G","x":1.89,"y":-27},{"s":"G","x":1.90,"y":-40},{"s":"G","x":1.86,"y":-43},{"s":"G","x":1.83,"y":-26},{"s":"G","x":1.785,"y":-35},{"s":"G","x":1.775,"y":-24},{"s":"G","x":1.75,"y":-24},{"s":"G","x":1.80,"y":-11},{"s":"G","x":1.83,"y":-8},{"s":"G","x":1.86,"y":-14},{"s":"G","x":1.91,"y":-12},{"s":"G","x":1.88,"y":-4},{"s":"G","x":1.96,"y":-4},{"s":"G","x":1.97,"y":-6},{"s":"G","x":1.77,"y":-4},{"s":"G","x":1.725,"y":-5},{"s":"G","x":1.71,"y":-8},{"s":"G","x":1.68,"y":-11},{"s":"G","x":1.65,"y":-5},{"s":"G","x":1.635,"y":-17},{"s":"G","x":1.64,"y":-23},{"s":"G","x":1.71,"y":-21},{"s":"G","x":1.58,"y":-25},{"s":"G","x":1.59,"y":-32},{"s":"G","x":1.61,"y":-33},{"s":"G","x":1.53,"y":-3},{"s":"G","x":1.515,"y":-6},{"s":"G","x":1.57,"y":-13},{"s":"G","x":1.52,"y":-18},{"s":"G","x":1.51,"y":-25},{"s":"G","x":1.45,"y":-4},{"s":"G","x":1.45,"y":-8},{"s":"G","x":1.41,"y":-5},{"s":"G","x":1.44,"y":-10},{"s":"G","x":1.47,"y":-17},{"s":"G","x":1.44,"y":-21},{"s":"G","x":1.48,"y":-23},{"s":"G","x":1.41,"y":-21},{"s":"G","x":1.38,"y":-22},{"s":"G","x":1.41,"y":-31}
    ],
    "lines": [
      {"g":"Without Guidance","x":1.03,"y":-4},{"g":"Without Guidance","x":1.02,"y":-12},{"g":"Without Guidance","x":1.01,"y":-22},{"g":"Without Guidance","x":1.0,"y":-42},{"g":"Without Guidance","x":0.988,"y":-53},{"g":"Without Guidance","x":0.974,"y":-64},{"g":"Without Guidance","x":0.97,"y":-84},{"g":"Without Guidance","x":0.965,"y":-103},{"g":"Without Guidance","x":0.96,"y":-129},{"g":"Without Guidance","x":0.951,"y":-145},{"g":"Without Guidance","x":0.924,"y":-162},{"g":"Without Guidance","x":0.92,"y":-190},{"g":"Without Guidance","x":0.917,"y":-205},{"g":"Without Guidance","x":0.875,"y":-214},{"g":"Without Guidance","x":0.852,"y":-226},{"g":"Without Guidance","x":0.807,"y":-244},{"g":"Without Guidance","x":0.771,"y":-255},{"g":"Without Guidance","x":0.744,"y":-274},{"g":"Without Guidance","x":0.685,"y":-285},{"g":"Without Guidance","x":0.699,"y":-295},
      {"g":"Natural","x":1.03,"y":-3},{"g":"Natural","x":1.02,"y":-28},{"g":"Natural","x":1.01,"y":-42},{"g":"Natural","x":1.003,"y":-70},{"g":"Natural","x":0.995,"y":-84},{"g":"Natural","x":0.975,"y":-95},{"g":"Natural","x":0.935,"y":-106},{"g":"Natural","x":0.939,"y":-126},{"g":"Natural","x":0.935,"y":-154},{"g":"Natural","x":0.92,"y":-168},{"g":"Natural","x":0.882,"y":-185},{"g":"Natural","x":0.86,"y":-196},{"g":"Natural","x":0.852,"y":-213},{"g":"Natural","x":0.845,"y":-228},{"g":"Natural","x":0.815,"y":-245},{"g":"Natural","x":0.78,"y":-254},{"g":"Natural","x":0.717,"y":-264},{"g":"Natural","x":0.717,"y":-295},
      {"g":"UTRGAN","x":1.037,"y":-1},{"g":"UTRGAN","x":1.018,"y":-3.4},{"g":"UTRGAN","x":1.01,"y":-12.6},{"g":"UTRGAN","x":1.006,"y":-22.7},{"g":"UTRGAN","x":1.015,"y":-27.7},{"g":"UTRGAN","x":1.0,"y":-30},{"g":"UTRGAN","x":1.028,"y":-36},{"g":"UTRGAN","x":0.988,"y":-39},{"g":"UTRGAN","x":0.957,"y":-41},{"g":"UTRGAN","x":0.935,"y":-46},{"g":"UTRGAN","x":0.943,"y":-51},{"g":"UTRGAN","x":0.911,"y":-53},{"g":"UTRGAN","x":0.875,"y":-56},{"g":"UTRGAN","x":0.792,"y":-57},{"g":"UTRGAN","x":0.875,"y":-59},{"g":"UTRGAN","x":0.816,"y":-62},{"g":"UTRGAN","x":0.866,"y":-66},
      {"g":"Random","x":1.131,"y":-4},{"g":"Random","x":1.131,"y":-28},{"g":"Random","x":1.128,"y":-47},{"g":"Random","x":1.12,"y":-64},{"g":"Random","x":1.093,"y":-84},{"g":"Random","x":1.086,"y":-106},{"g":"Random","x":1.093,"y":-126},{"g":"Random","x":1.1,"y":-145},{"g":"Random","x":1.1,"y":-162},{"g":"Random","x":1.07,"y":-173},{"g":"Random","x":1.055,"y":-185},{"g":"Random","x":1.04,"y":-206},{"g":"Random","x":1.033,"y":-214},{"g":"Random","x":0.995,"y":-221},{"g":"Random","x":0.951,"y":-230},{"g":"Random","x":0.905,"y":-249},{"g":"Random","x":0.867,"y":-263},{"g":"Random","x":0.836,"y":-274},{"g":"Random","x":0.83,"y":-295},
      {"g":"Guidance","x":2.605,"y":-4},{"g":"Guidance","x":2.553,"y":-13},{"g":"Guidance","x":2.372,"y":-22},{"g":"Guidance","x":2.071,"y":-32},{"g":"Guidance","x":1.785,"y":-40},{"g":"Guidance","x":1.665,"y":-49},{"g":"Guidance","x":1.514,"y":-59},{"g":"Guidance","x":1.439,"y":-68},{"g":"Guidance","x":1.356,"y":-77},{"g":"Guidance","x":1.296,"y":-85},{"g":"Guidance","x":1.225,"y":-103},{"g":"Guidance","x":1.21,"y":-112},{"g":"Guidance","x":1.168,"y":-122},{"g":"Guidance","x":1.131,"y":-145},{"g":"Guidance","x":1.123,"y":-162},{"g":"Guidance","x":1.131,"y":-175},{"g":"Guidance","x":1.108,"y":-182},{"g":"Guidance","x":1.086,"y":-193},{"g":"Guidance","x":1.01,"y":-202},{"g":"Guidance","x":1.093,"y":-211},{"g":"Guidance","x":0.973,"y":-220},{"g":"Guidance","x":0.975,"y":-235},{"g":"Guidance","x":0.988,"y":-246},{"g":"Guidance","x":0.95,"y":-256},{"g":"Guidance","x":0.973,"y":-266}
    ]
  },
  "encoding": {
    "x": {
      "field": "x",
      "type": "quantitative",
      "title": "Translation Efficiency",
      "scale": {"domain": [0.2, 2.64], "nice": false, "zero": false},
      "axis": {"values": [0.5, 1.0, 1.5, 2.0, 2.5], "format": ".1f", "titlePadding": 5}
    },
    "y": {
      "field": "y",
      "type": "quantitative",
      "title": "Minimum Free Energy",
      "scale": {"domain": [-320, 18.5], "nice": false, "zero": false},
      "axis": {"values": [0, -50, -100, -150, -200, -250, -300], "titlePadding": 8}
    }
  },
  "layer": [
    {
      "data": {"name": "pts"},
      "mark": {"type": "point", "shape": "circle", "filled": true, "size": 24, "fillOpacity": 0.22, "strokeOpacity": 0.32, "strokeWidth": 1},
      "encoding": {
        "color": {
          "field": "s",
          "type": "nominal",
          "scale": {"domain": ["W", "N", "U", "R", "G"], "range": ["#1f77b4", "#ff7f0e", "#2ca02c", "#d62728", "#9467bd"]},
          "legend": null
        },
        "stroke": {
          "field": "s",
          "type": "nominal",
          "scale": {"domain": ["W", "N", "U", "R", "G"], "range": ["#1f77b4", "#ff7f0e", "#2ca02c", "#d62728", "#9467bd"]},
          "legend": null
        }
      }
    },
    {
      "data": {"name": "lines"},
      "mark": {"type": "line", "strokeWidth": 2.4},
      "encoding": {
        "order": {"field": "y", "sort": "descending"},
        "color": {
          "field": "g",
          "type": "nominal",
          "scale": {"domain": ["Without Guidance", "Natural", "UTRGAN", "Random", "Guidance"], "range": ["#1f77b4", "#ff7f0e", "#2ca02c", "#d62728", "#9467bd"]},
          "legend": {
            "title": null,
            "orient": "bottom-right",
            "offset": 7,
            "symbolType": "stroke",
            "symbolSize": 961,
            "symbolStrokeWidth": 2.4,
            "clipHeight": 14,
            "rowPadding": 6.7,
            "labelFontSize": 13.9,
            "labelColor": "black",
            "labelOffset": 9,
            "padding": 5,
            "strokeColor": "#cccccc",
            "fillColor": "rgba(255,255,255,0.8)",
            "cornerRadius": 3
          }
        }
      }
    }
  ],
  "resolve": {"scale": {"color": "independent"}}
}
